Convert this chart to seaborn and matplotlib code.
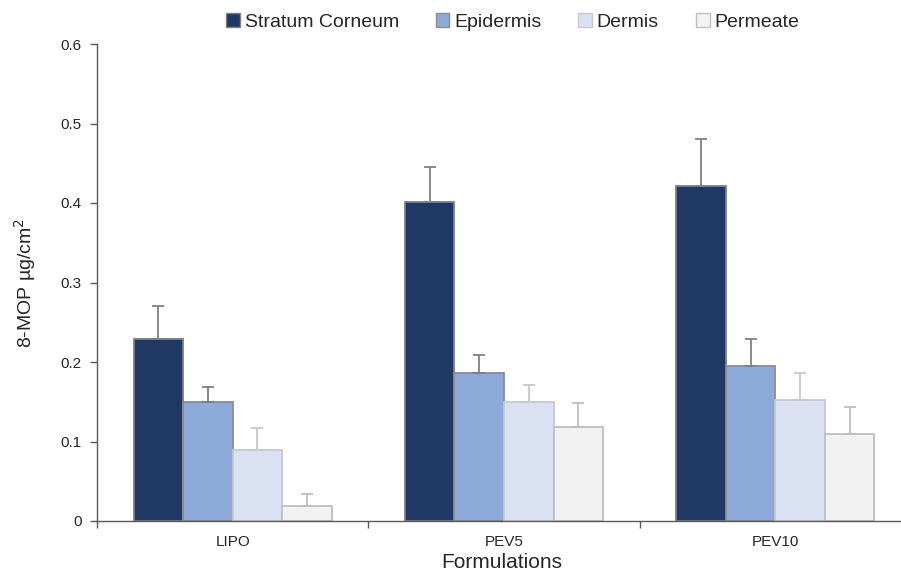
import pandas as pd
import seaborn as sns
import matplotlib.pyplot as plt
from matplotlib.patches import Patch

# data
formulations = ["LIPO", "PEV5", "PEV10"]
layers = ["Stratum Corneum", "Epidermis", "Dermis", "Permeate"]
stratum_corneum = [0.229, 0.401, 0.421]
epidermis = [0.150, 0.186, 0.195]
dermis = [0.089, 0.150, 0.152]
permeate = [0.019, 0.118, 0.109]
sc_err = [0.041, 0.044, 0.059]
epi_err = [0.019, 0.023, 0.034]
der_err = [0.028, 0.021, 0.034]
perm_err = [0.015, 0.030, 0.035]

colors = ["#1f3864", "#8eaadb", "#d9e1f2", "#f2f2f2"]
edges = ["#7f7f7f", "#8c8c8c", "#c8c8c8", "#bfbfbf"]
err_colors = ["#808080", "#808080", "#c8c8c8", "#bfbfbf"]

values = [stratum_corneum, epidermis, dermis, permeate]
errors = [sc_err, epi_err, der_err, perm_err]

df = pd.DataFrame({
    "Formulation": formulations * 4,
    "Layer": [l for l in layers for _ in formulations],
    "Value": [v for vals in values for v in vals],
})

sns.set_style("white")
plt.rcParams["font.family"] = ["Liberation Sans", "DejaVu Sans"]

fig = plt.figure(figsize=(9.01, 5.76), dpi=100)
ax = fig.add_axes([97 / 901, 55 / 576, 814 / 901, 477 / 576])

sns.barplot(data=df, x="Formulation", y="Value", hue="Layer",
            order=formulations, hue_order=layers, palette=colors,
            width=0.73, gap=0, errorbar=None, legend=False, ax=ax,
            linewidth=1.3, saturation=1)

# recolour edges and add upper-only error bars
for i, layer in enumerate(layers):
    bars = ax.patches[i * 3:(i + 1) * 3]
    for j, bar in enumerate(bars):
        bar.set_edgecolor(edges[i])
        x = bar.get_x() + bar.get_width() / 2
        h = bar.get_height()
        ax.errorbar(x, h, yerr=[[0], [errors[i][j]]], fmt="none",
                    ecolor=err_colors[i], elinewidth=1.3, capsize=4,
                    capthick=1.3, zorder=1)

ax.set_ylim(0, 0.6)
ax.set_yticks([0, 0.1, 0.2, 0.3, 0.4, 0.5, 0.6])
ax.set_yticklabels(["0", "0.1", "0.2", "0.3", "0.4", "0.5", "0.6"])
ax.set_xlim(-0.5, 2.5)
ax.set_xticks([-0.5, 0.5, 1.5, 2.5], minor=True)
ax.tick_params(axis="x", which="major", length=0, pad=10, labelsize=11)
ax.tick_params(axis="x", which="minor", length=5, width=1, color="#595959",
               bottom=True)
ax.tick_params(axis="y", length=5, width=1, color="#595959", left=True,
               labelsize=11, pad=6)

for s in ["top", "right"]:
    ax.spines[s].set_visible(False)
for s in ["left", "bottom"]:
    ax.spines[s].set_color("#595959")
    ax.spines[s].set_linewidth(1)

ax.set_xlabel("Formulations", fontsize=15)
ax.xaxis.set_label_coords(0.4975, -0.068)
ax.set_ylabel("8-MOP µg/cm$^2$", fontsize=14, labelpad=16)

handles = [Patch(facecolor=colors[i], edgecolor=edges[i], label=layers[i])
           for i in range(4)]
fig.legend(handles=handles, loc="center", bbox_to_anchor=(0.569, 0.962),
           ncol=4, frameon=False, fontsize=14, handlelength=0.7,
           handleheight=0.7, handletextpad=0.25, columnspacing=1.9)

fig.savefig("out.png", dpi=100)
